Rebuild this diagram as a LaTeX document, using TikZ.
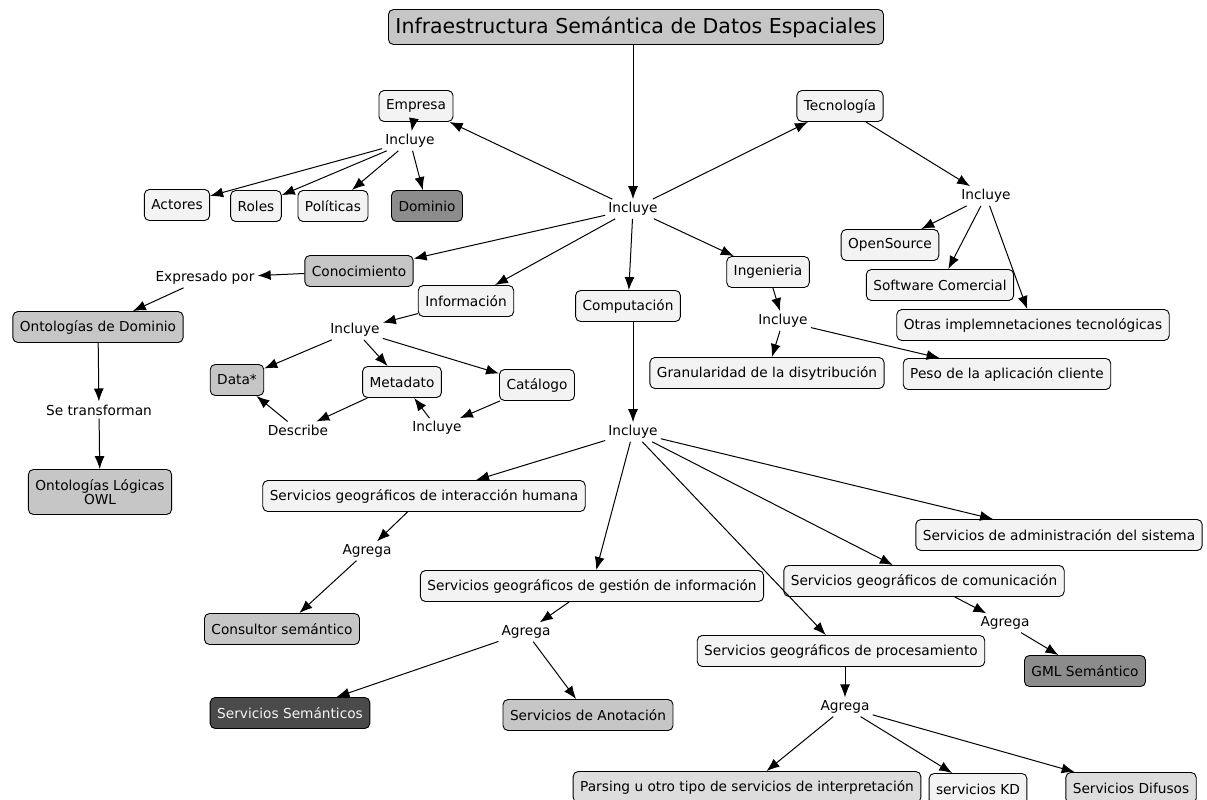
\documentclass[tikz,border=0pt]{standalone}
\usepackage{fontspec}
\setmainfont{DejaVu Sans}
\usetikzlibrary{arrows.meta,
	calc,
	positioning}
\definecolor{cajaclara}{HTML}{F3F3F3}
\definecolor{cajagris}{HTML}{C6C6C6}
\definecolor{cajamedia}{HTML}{8C8C8C}
\definecolor{cajaosc}{HTML}{4A4A4A}
\tikzstyle{caja}=[draw, rounded corners=5pt, fill=cajaclara, line width=0.9pt,
		inner xsep=7pt, minimum height=31pt, font=\fontsize{13.7}{15}\selectfont]
\tikzstyle{cajag}=[caja, fill=cajagris]
\tikzstyle{cajam}=[caja, fill=cajamedia]
\tikzstyle{cajao}=[caja, fill=cajaosc, text=cajaclara]
\tikzstyle{enlace}=[inner sep=3pt, font=\fontsize{13.7}{15}\selectfont]
\tikzstyle{flecha}=[-{Latex[length=13pt,width=10pt]}, line width=1pt]

\begin{document}
\begin{tikzpicture}[x=1pt, y=-1pt]
        \useasboundingbox (0,0) rectangle (1207,800);
        \node[cajag, minimum height=35pt, font=\fontsize{20.5}{22}\selectfont] (isde) at (636,27) {Infraestructura Semántica de Datos Espaciales};
        \node[enlace] (inc) at (633,209) {Incluye};
        % empresa
        \node[caja] (emp) at (416,106) {Empresa};
        \node[enlace] (incemp) at (410,141) {Incluye};
        \node[caja] (act) at (177,205) {Actores};
        \node[caja] (rol) at (256,206) {Roles};
        \node[caja] (pol) at (333,206) {Políticas};
        \node[cajam] (dom) at (427,206) {Dominio};
        % tecnologia
        \node[caja] (tec) at (840,106) {Tecnología};
        \node[enlace] (inctec) at (986,196) {Incluye};
        \node[caja] (os) at (890,245) {OpenSource};
        \node[caja] (sc) at (940,285) {Software Comercial};
        \node[caja] (otr) at (1033,325) {Otras implemnetaciones tecnológicas};
        % ingenieria
        \node[caja] (ing) at (768,272) {Ingenieria};
        \node[enlace] (incing) at (783,321) {Incluye};
        \node[caja] (gra) at (767,373) {Granularidad de la disytribución};
        \node[caja] (pes) at (1007,374) {Peso de la aplicación cliente};
        % conocimiento
        \node[cajag] (con) at (359,271) {Conocimiento};
        \node[enlace] (exp) at (205,278) {Expresado por};
        \node[cajag] (ontd) at (98,327) {Ontologías de Dominio};
        \node[enlace] (setr) at (99,410) {Se transforman};
        \node[cajag, align=center, minimum height=45pt, font=\fontsize{13.7}{14.5}\selectfont] (owl) at (100,492) {Ontologías Lógicas\\OWL};
        % informacion
        \node[caja] (inf) at (466,301) {Información};
        \node[enlace] (incinf) at (355,330) {Incluye};
        \node[cajag] (dat) at (237,380) {Data*};
        \node[caja] (met) at (402,382) {Metadato};
        \node[caja] (cat) at (537,385) {Catálogo};
        \node[enlace] (des) at (298,430) {Describe};
        \node[enlace] (inccat) at (437,428) {Incluye};
        % computacion
        \node[caja] (comp) at (628,306) {Computación};
        \node[enlace] (inccomp) at (633,432) {Incluye};
        \node[caja] (sih) at (424,496) {Servicios geográficos de interacción humana};
        \node[enlace] (agr1) at (367,551) {Agrega};
        \node[cajag] (csem) at (282,629) {Consultor semántico};
        \node[caja] (sgi) at (592,586) {Servicios geográficos de gestión de información};
        \node[enlace] (agr2) at (526,632) {Agrega};
        \node[cajao] (ssem) at (290,713) {Servicios Semánticos};
        \node[cajag] (sano) at (588,715) {Servicios de Anotación};
        \node[caja] (sadm) at (1059,535) {Servicios de administración del sistema};
        \node[caja] (scom) at (924,581) {Servicios geográficos de comunicación};
        \node[enlace] (agr3) at (1005,623) {Agrega};
        \node[cajam] (gml) at (1085,671) {GML Semántico};
        \node[caja] (spro) at (841,651) {Servicios geográficos de procesamiento};
        \node[enlace] (agr4) at (845,707) {Agrega};
        \node[caja, fill=cajagris!60] (par) at (747,787) {Parsing u otro tipo de servicios de interpretación};
        \node[caja] (skd) at (978,789) {servicios KD};
        \node[caja, fill=cajagris!60] (sdif) at (1131,788) {Servicios Difusos};

        \draw[flecha] (isde.south -| inc) -- (inc);
        \foreach \d in {emp, tec, con, inf, comp, ing}
            \draw[flecha] (inc) -- (\d);
        \draw[flecha] (emp) -- (incemp);
        \foreach \d in {act, rol, pol, dom}
            \draw[flecha] (incemp) -- (\d);
        \draw[flecha] (tec) -- (inctec);
        \foreach \d in {os, sc, otr}
            \draw[flecha] (inctec) -- (\d);
        \draw[flecha] (ing) -- (incing);
        \foreach \d in {gra, pes}
            \draw[flecha] (incing) -- (\d);
        \draw[flecha] (con) -- (exp);
        \draw[flecha] (exp) -- (ontd);
        \draw[flecha] (ontd) -- (setr);
        \draw[flecha] (setr) -- (owl);
        \draw[flecha] (inf) -- (incinf);
        \foreach \d in {dat, met, cat}
            \draw[flecha] (incinf) -- (\d);
        \draw[flecha] (met) -- (des);
        \draw[flecha] (des) -- (dat);
        \draw[flecha] (cat) -- (inccat);
        \draw[flecha] (inccat) -- (met);
        \draw[flecha] (comp.south -| inccomp) -- (inccomp);
        \foreach \d in {sih, sgi, spro, scom, sadm}
            \draw[flecha] (inccomp) -- (\d);
        \draw[flecha] (sih) -- (agr1);
        \draw[flecha] (agr1) -- (csem);
        \draw[flecha] (sgi) -- (agr2);
        \foreach \d in {ssem, sano}
            \draw[flecha] (agr2) -- (\d);
        \draw[flecha] (scom) -- (agr3);
        \draw[flecha] (agr3) -- (gml);
        \draw[flecha] (spro.south -| agr4) -- (agr4);
        \foreach \d in {par, skd, sdif}
            \draw[flecha] (agr4) -- (\d);
    \end{tikzpicture}
\end{document}
